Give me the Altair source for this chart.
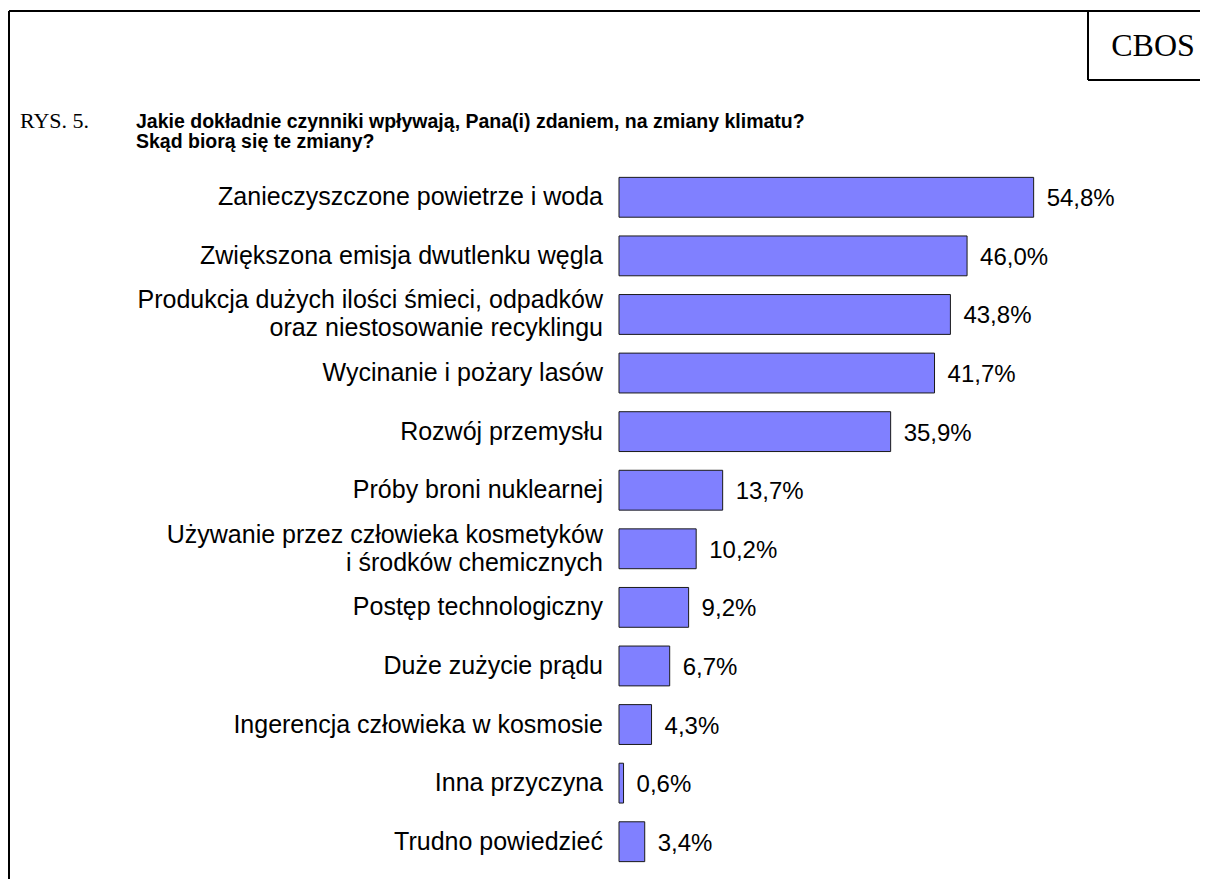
import altair as alt
import pandas as pd

categories = [
    "Zanieczyszczone powietrze i woda",
    "Zwiększona emisja dwutlenku węgla",
    "Produkcja dużych ilości śmieci, odpadków\noraz niestosowanie recyklingu",
    "Wycinanie i pożary lasów",
    "Rozwój przemysłu",
    "Próby broni nuklearnej",
    "Używanie przez człowieka kosmetyków\ni środków chemicznych",
    "Postęp technologiczny",
    "Duże zużycie prądu",
    "Ingerencja człowieka w kosmosie",
    "Inna przyczyna",
    "Trudno powiedzieć",
]
values = [54.8, 46.0, 43.8, 41.7, 35.9, 13.7, 10.2, 9.2, 6.7, 4.3, 0.6, 3.4]

fig_label = ["RYS. 5."]
question = ["Jakie dokładnie czynniki wpływają, Pana(i) zdaniem, na zmiany klimatu?\nSkąd biorą się te zmiany?"]
source = ["CBOS"]

df = pd.DataFrame({"cat": categories, "v": values})
one = pd.DataFrame({"k": [0]})

W, H = 454, 703
y_enc = alt.Y("cat:N", sort=categories, axis=None,
              scale=alt.Scale(paddingInner=0.32, paddingOuter=0.16))
x_enc = alt.X("v:Q", axis=None, scale=alt.Scale(domain=[0, 60], nice=False, zero=True))

base = alt.Chart(df)

bars = base.mark_bar(color="#8080FF", stroke="#1a1a1a", strokeWidth=1).encode(
    x=x_enc, y=y_enc
)

vals = base.transform_calculate(
    lab="replace(format(datum.v, '.1f'), '.', ',') + '%'"
).mark_text(
    align="left", baseline="middle", dx=13, dy=2, fontSize=24,
    font="Liberation Sans", color="black"
).encode(x=x_enc, y=y_enc, text="lab:N")

cat_style = dict(align="right", baseline="middle", fontSize=25, font="Liberation Sans",
                 color="black", lineBreak="\n", lineHeight=28)

cats1 = base.transform_filter("indexof(datum.cat, '\\n') < 0").mark_text(
    **cat_style
).encode(x=alt.value(-16), y=y_enc, text="cat:N")

cats2 = base.transform_filter("indexof(datum.cat, '\\n') >= 0").mark_text(
    dy=-14, **cat_style
).encode(x=alt.value(-16), y=y_enc, text="cat:N")

fig = alt.Chart(pd.DataFrame({"t": fig_label})).mark_text(
    align="left", baseline="alphabetic", fontSize=22, font="Liberation Serif", color="black"
).encode(x=alt.value(-599), y=alt.value(-40), text="t:N")

q = alt.Chart(pd.DataFrame({"t": question})).mark_text(
    align="left", baseline="alphabetic", fontSize=19.5, fontWeight="bold",
    font="Liberation Sans", color="black", lineBreak="\n", lineHeight=20
).encode(x=alt.value(-483), y=alt.value(-40), text="t:N")

src = alt.Chart(pd.DataFrame({"t": source})).mark_text(
    align="center", baseline="alphabetic", fontSize=32, font="Liberation Serif", color="black"
).encode(x=alt.value(534), y=alt.value(-112), text="t:N")

def rule(x, x2, y, y2):
    return alt.Chart(one).mark_rule(color="black", strokeWidth=2).encode(
        x=alt.value(x), x2=alt.value(x2), y=alt.value(y), y2=alt.value(y2)
    )

frame = [
    rule(-610, 590, -157, -157),   # top
    rule(-610, -610, -157, 720),   # left
    rule(469, 469, -157, -88),     # CBOS box left
    rule(469, 590, -88, -88),      # CBOS box bottom
]

chart = alt.layer(bars, vals, cats1, cats2, fig, q, src, *frame).properties(
    width=W, height=H,
    autosize=alt.AutoSizeParams(type="none"),
    padding={"left": 611, "top": 160, "right": 127, "bottom": 8},
).configure_view(strokeOpacity=0, strokeWidth=0)

chart.save("out.html", embed_options={"renderer": "svg", "actions": False})
